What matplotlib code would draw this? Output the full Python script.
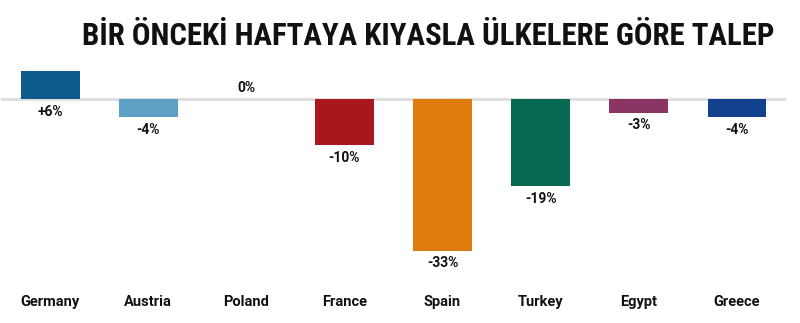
import matplotlib
matplotlib.use("Agg")
import matplotlib.pyplot as plt
from matplotlib import font_manager as fm

countries = ["Germany", "Austria", "Poland", "France", "Spain", "Turkey", "Egypt", "Greece"]
values = [6, -4, 0, -10, -33, -19, -3, -4]
labels = ["+6%", "-4%", "0%", "-10%", "-33%", "-19%", "-3%", "-4%"]
colors = ["#0d5b8c", "#5e9fc6", "#cccccc", "#a8171c", "#e07b0f", "#066a52", "#8a3563", "#11418f"]
title = "BİR ÖNCEKİ HAFTAYA KIYASLA ÜLKELERE GÖRE TALEP"

names = {f.name for f in fm.fontManager.ttflist}
title_fam = "Roboto"
for cand in ["Roboto Condensed", "Liberation Sans Narrow", "Open Sans Condensed", "Roboto"]:
    if cand in names:
        title_fam = cand
        break
plt.rcParams["font.family"] = ["Roboto", "DejaVu Sans"]

W, H = 800, 323
fig = plt.figure(figsize=(8, 3.23), dpi=100)
ax = fig.add_axes([1 / W, 1 - 275 / H, 785 / W, 215 / H])
ppp = 4.6
ax.set_xlim(-0.5, 7.5)
ax.set_ylim(-(275 - 99) / ppp, (99 - 60) / ppp)

x = list(range(len(countries)))
ax.bar(x, values, width=0.6, color=colors, zorder=3)
ax.axhline(0, color="#dddddd", lw=2, zorder=2)

for xi, v, lab in zip(x, values, labels):
    if v > 0:
        ax.annotate(lab, (xi, 0), xytext=(0, -4), textcoords="offset points",
                    ha="center", va="top", fontsize=10, fontweight="bold", color="#111111")
    elif v == 0:
        ax.annotate(lab, (xi, 0), xytext=(0, 3), textcoords="offset points",
                    ha="center", va="bottom", fontsize=10, fontweight="bold", color="#111111")
    else:
        ax.annotate(lab, (xi, v), xytext=(0, -4), textcoords="offset points",
                    ha="center", va="top", fontsize=10, fontweight="bold", color="#111111")

ax.set_xticks(x)
ax.set_xticklabels(countries, fontsize=10.5, fontweight="bold", color="#111111")
ax.tick_params(axis="x", length=0, pad=14.5)
ax.set_yticks([])
for s in ax.spines.values():
    s.set_visible(False)

t = fig.text(428 / W, 1 - 36 / H, title, ha="center", va="center",
             fontsize=22, fontweight="bold", color="#111111",
             family=[title_fam, "DejaVu Sans"])
fig.canvas.draw()
wpx = t.get_window_extent().width
target = 690
t.set_fontsize(22 * target / wpx)

fig.savefig("out.png", dpi=100, facecolor="white")
